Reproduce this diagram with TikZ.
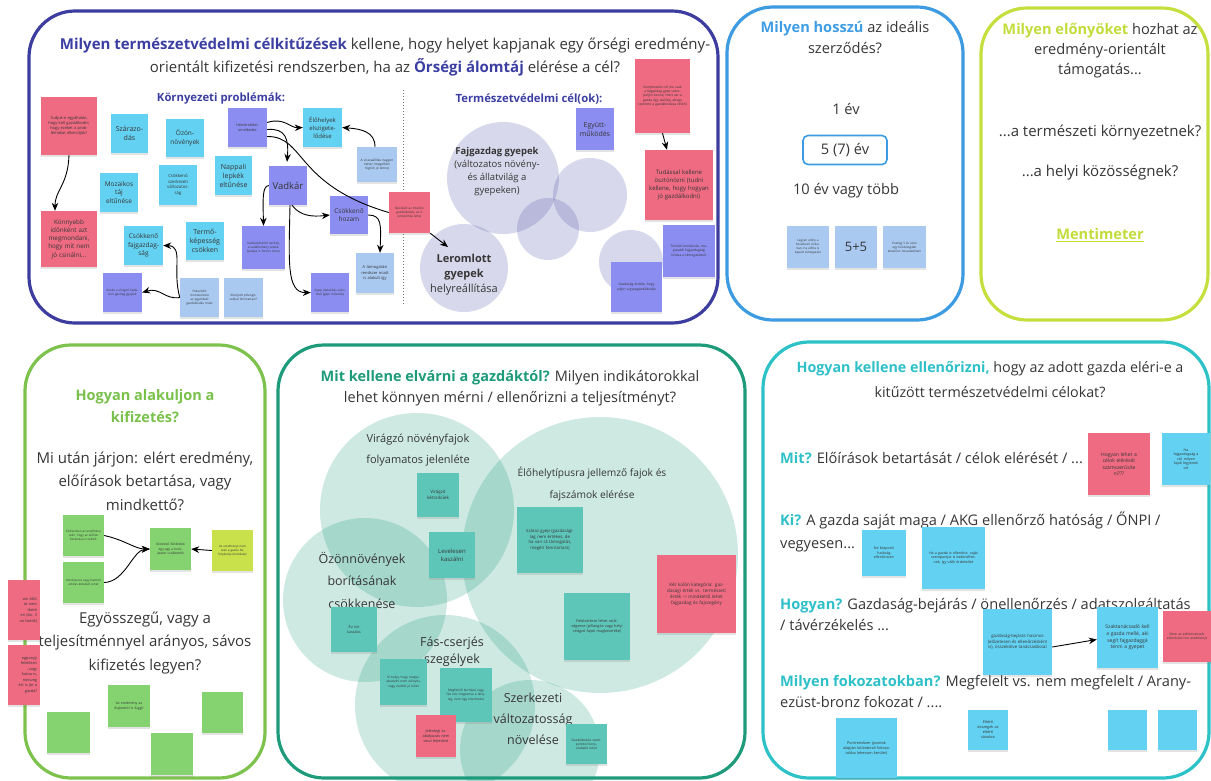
\documentclass[tikz,border=0pt]{standalone}
\usepackage{fontspec}
\setmainfont{Open Sans}
\usetikzlibrary{arrows.meta,shadows}
\definecolor{cInd}{HTML}{3D3DA0}
\definecolor{cBlue}{HTML}{3D9BE2}
\definecolor{cLime}{HTML}{C6DF3E}
\definecolor{cGreen}{HTML}{7DC24C}
\definecolor{cTeal}{HTML}{1D9B7B}
\definecolor{cCyan}{HTML}{2DC2C8}
\definecolor{cIndT}{HTML}{3C3FA2}
\definecolor{cBlueT}{HTML}{3E9DE5}
\definecolor{cLimeT}{HTML}{C2DC3A}
\definecolor{cGreenT}{HTML}{79C14A}
\definecolor{cTealT}{HTML}{1E9B7B}
\definecolor{cCyanT}{HTML}{2EC0C8}
\definecolor{nCyan}{HTML}{63D1F1}
\definecolor{nPurp}{HTML}{8B8DF0}
\definecolor{nLblue}{HTML}{A9C9F0}
\definecolor{nRed}{HTML}{EE6B82}
\definecolor{nGreen}{HTML}{84D370}
\definecolor{nLime}{HTML}{C9E24C}
\definecolor{nTeal}{HTML}{5EC6B9}
\definecolor{txt}{HTML}{363636}
\newcommand{\fsz}[2]{\fontsize{#1}{#2}\selectfont}
\newcommand{\sticky}[9][]{%
  \pgfmathsetmacro\stkw{#5-#3}%
  \pgfmathsetmacro\stkh{#6-#4}%
  \pgfmathsetmacro\stkx{(#3+#5)/2}%
  \pgfmathsetmacro\stky{(#4+#6)/2}%
  \pgfmathsetmacro\stkt{max(#5-#3-6,5)}%
  \node[stk,fill=#7,minimum width=\stkw pt,minimum height=\stkh pt,text width=\stkt pt,font=#8,#1] (#2) at (\stkx,\stky) {#9};}
\tikzset{
  stk/.style={align=center, inner sep=1pt, text=txt, draw=none,
    drop shadow={shadow xshift=0pt,shadow yshift=-1.6pt,opacity=0.22}},
  arr/.style={-{Stealth[length=8pt,width=6.5pt]}, line width=0.9pt, black},
  plain/.style={line width=0.9pt, black},
  lbl/.style={align=center, text=txt, inner sep=0pt},
  frame/.style={line width=3.2pt, rounded corners=46pt},
  icirc/.style={circle, fill=cInd, fill opacity=0.2, inner sep=0pt, draw=none},
  tcirc/.style={circle, fill=cTeal, fill opacity=0.22, inner sep=0pt, draw=none},
}
\begin{document}
\begin{tikzpicture}[x=1pt,y=-1pt]
\useasboundingbox (0,0) rectangle (1211,780);
\fill[white] (0,0) rectangle (1211,780);

% ---------- frames ----------
\draw[frame, cInd] (29,11) rectangle (718,323);
\draw[frame, cBlue] (727,7) rectangle (963,320);
\draw[frame, cLime] (981,8) rectangle (1208,320);
\draw[frame, cGreen] (25,345) rectangle (265,778);
\draw[frame, cTeal] (278,345) rectangle (745,778);
\draw[frame, cCyan] (763,342) rectangle (1209,778);

% ---------- circles ----------
\node[icirc, minimum size=112pt] (fajc) at (503,178) {};
\node[icirc, minimum size=74pt] (ic2) at (590,195) {};
\node[icirc, minimum size=62pt] (ic3) at (548,229) {};
\node[icirc, minimum size=88pt] (lerom) at (464,268) {};
\node[icirc, minimum size=64pt] (ic5) at (631,262) {};

\node[tcirc, minimum size=194pt] (tc1) at (417,510) {};
\node[tcirc, minimum size=276pt] (tc2) at (600,555) {};
\node[tcirc, minimum size=164pt] (tc3) at (365,600) {};
\node[tcirc, minimum size=180pt] (tc4) at (445,705) {};
\node[tcirc, minimum size=140pt] (tc5) at (530,750) {};

% ---------- panel 1 texts ----------
\node[lbl, font=\fsz{15}{23}] (t1) at (385,57) {\textcolor{cIndT}{\textbf{Milyen természetvédelmi célkitűzések}} kellene, hogy helyet kapjanak egy őrségi eredmény-\\orientált kifizetési rendszerben, ha az \textcolor{cIndT}{\textbf{Őrségi álomtáj}} elérése a cél?};
\node[lbl, font=\bfseries\fsz{11.3}{13}, text=cIndT] (kp) at (221,99) {Környezeti problémák:};
\node[lbl, font=\bfseries\fsz{11.3}{13}, text=cIndT] (tcl) at (529,99) {Természetvédelmi cél(ok):};
\coordinate (dl1) at (403,90);
\coordinate (dl2) at (403,305);
\draw[dotted, line width=1pt, black!55] (dl1) -- (dl2);
\node[lbl, font=\fsz{9.5}{13}] (fgt) at (497,172) {\textbf{Fajgazdag gyepek}\\(változatos növény-\\és állatvilág a\\gyepeken)};
\node[lbl, font=\fsz{11}{15}] (lert) at (464,275) {\textbf{Leromlott}\\\textbf{gyepek}\\helyreállítása};

% ---------- panel 1 notes ----------
\sticky{rA}{41}{97}{97}{155}{nRed}{\fsz{4}{5}}{Tudjuk-e egyáltalán, hogy kell gazdálkodni, hogy ezeket a problémákat elkerüljük?}
\sticky{rB}{41}{211}{97}{267}{nRed}{\fsz{6.3}{8.2}}{Könnyebb időnként azt megmondani, hogy mit nem jó csinálni...}
\sticky{szar}{111}{114}{148}{153}{nCyan}{\fsz{7}{9}}{Szárazo-\\dás}
\sticky{ozon}{166}{119}{204}{157}{nCyan}{\fsz{6.5}{8.5}}{Özön-\\növények}
\sticky{nap}{228}{108}{267}{147}{nPurp}{\fsz{3.6}{4.6}}{Hőmérséklet-\\emelkedés}
\sticky{eloh}{303}{108}{342}{147}{nCyan}{\fsz{6}{8}}{Élőhelyek\\elszigete-\\lődése}
\sticky{lb1}{357}{147}{397}{182}{nLblue}{\fsz{3.2}{4.2}}{A visszaállítás nagyon nehéz (megelőzni rögtön jó lenne)}
\sticky{napp}{215}{156}{252}{195}{nCyan}{\fsz{7}{9}}{Nappali\\lepkék\\eltűnése}
\sticky{szerk}{159}{165}{197}{205}{nCyan}{\fsz{4.3}{5.6}}{Csökkenő\\szerkezeti\\változatos-\\ság}
\sticky{moz}{100}{173}{138}{212}{nCyan}{\fsz{6.5}{8.5}}{Mozaikos\\táj\\eltűnése}
\sticky{vad}{269}{166}{307}{205}{nPurp}{\fsz{9.5}{11}}{Vadkár}
\sticky{hoz}{330}{196}{368}{234}{nPurp}{\fsz{6.5}{8.5}}{Csökkenő\\hozam}
\sticky{nov}{389}{192}{430}{233}{nRed}{\fsz{3.1}{4.1}}{Növekvő az intenzív gazdálkodás, ez is problémás lehet}
\sticky{pB}{242}{226}{285}{269}{nPurp}{\fsz{3.1}{4.1}}{Vadkárelhárító kerítés, a vadállomány szabályozása is fontos lenne}
\sticky{pC}{311}{273}{349}{312}{nPurp}{\fsz{3.1}{4.1}}{Gyep átalakítás szántóvá (gépi művelés)}
\sticky{lb2}{356}{253}{394}{293}{nLblue}{\fsz{4}{5.2}}{A támogatási rendszer miatt is alakult így}
\sticky{term}{186}{222}{224}{260}{nCyan}{\fsz{7}{9}}{Termő-\\képesség\\csökken}
\sticky{fajg}{124}{226}{163}{265}{nCyan}{\fsz{6.5}{8.5}}{Csökkenő\\fajgazdag-\\ság}
\sticky{lb3}{180}{278}{219}{317}{nLblue}{\fsz{3.1}{4.1}}{Fokozódó monokultúra az egyoldalú gazdálkodás miatt}
\sticky{lb4}{224}{278}{263}{317}{nLblue}{\fsz{3.1}{4.1}}{Kiterjedt pillangósokkal fenntartani?}
\sticky{pD}{103}{273}{142}{312}{nPurp}{\fsz{3.1}{4.1}}{Kevés a virágzó fajokban gazdag gyepek}
\sticky{egy}{576}{108}{614}{150}{nPurp}{\fsz{7}{9}}{Együtt-\\működés}
\sticky{kom}{635}{59}{690}{133}{nRed}{\fsz{3.3}{4.4}}{Komplexebb cél (ne csak a fajgazdag gyep szerepeljen benne, mert azt a gazda úgy alakítja, ahogy szeretné a gazdálkodása révén)}
\sticky{tud}{645}{150}{713}{220}{nRed}{\fsz{6}{8}}{Tudással kellene ösztönözni (tudni kellene, hogy hogyan jó gazdálkodni)}
\sticky{pE}{663}{225}{715}{277}{nPurp}{\fsz{3.3}{4.4}}{Területi korlátozás, magasabb fajgazdagság kiírása a támogatásból}
\sticky{pF}{611}{262}{662}{312}{nPurp}{\fsz{3.3}{4.4}}{Gazdaság érdeke, hogy adjon a gyepgazdálkodás}

% ---------- panel 1 arrows ----------
\draw[arr] (rA.south) .. controls (68,185) and (55,190) .. ([xshift=-14pt]rB.north);
\draw[arr] ([yshift=5pt]nap.east) .. controls (284,117) and (290,128) .. (eloh.west);
\draw[arr] ([yshift=-2pt]nap.east) .. controls (285,128) and (289,138) .. ([xshift=-1pt,yshift=4pt]vad.north);
\draw[plain] ([yshift=-9pt]nap.east) .. controls (305,136) and (295,185) .. (nov.west);
\draw[arr] (nov.south east) -- ([xshift=-16pt,yshift=21pt]lerom.center);
\draw[arr] ([xshift=-2pt]lb1.north) .. controls (375,132) and (362,129) .. (eloh.east);
\draw[arr] ([xshift=4pt]vad.south) .. controls (300,216) and (312,217) .. (hoz.west);
\draw[arr] (vad.west) .. controls (262,186) and (263,200) .. (pB.north);
\draw[arr] ([xshift=2pt]vad.south) .. controls (289,260) and (286,293) .. (pC.west);
\draw[arr] (hoz.east) .. controls (382,215) and (381,225) .. ([xshift=5pt]lb2.north);
\draw[arr] (lb3.west) .. controls (172,270) and (184,246) .. (fajg.east);
\draw[arr] (lb3.west) .. controls (165,300) and (160,287) .. (pD.east);
\draw[arr] (kom.south) -- ([xshift=-12pt]tud.north);

% ---------- panel 2 ----------
\node[lbl, font=\fsz{14.6}{21}] (t2) at (845,38) {\textcolor{cBlueT}{\textbf{Milyen hosszú}} az ideális\\szerződés?};
\node[lbl, font=\fsz{14.6}{16}] (e1) at (846,109) {1 év};
\node[lbl, draw=cBlue, line width=1.6pt, rounded corners=5pt, minimum width=84pt, minimum height=29pt, font=\fsz{14.6}{16}] (b57) at (845,150) {5 (7) év};
\node[lbl, font=\fsz{14.6}{16}] (e10) at (846,191) {10 év vagy több};
\sticky{nA}{787}{226}{829}{268}{nLblue}{\fsz{3}{4}}{Legyen előny a következő ciklusban, ha előtte is kapott támogatást}
\sticky{nB}{835}{226}{877}{268}{nLblue}{\fsz{13}{15}}{5+5}
\sticky{nC}{883}{226}{926}{268}{nLblue}{\fsz{3}{4}}{Esetleg 5 év után egy felülvizsgálat követően hosszabbítani}

% ---------- panel 3 ----------
\node[lbl, font=\fsz{14.6}{20}] (t3) at (1100,51) {\textcolor{cLimeT}{\textbf{Milyen előnyöket}} hozhat az\\eredmény-orientált\\támogatás...};
\node[lbl, font=\fsz{15}{16}] (k1) at (1100,133) {...a természeti környezetnek?};
\node[lbl, font=\fsz{15}{16}] (k2) at (1100,173) {...a helyi közösségnek?};
\node[lbl, font=\bfseries\fsz{14.6}{16}, text=cLimeT] (menti) at (1100,235) {\underline{Mentimeter}};

% ---------- panel 4 ----------
\node[lbl, font=\bfseries\fsz{14.5}{22}, text=cGreenT] (t4) at (145,406) {Hogyan alakuljon a\\kifizetés?};
\node[lbl, font=\fsz{15}{23.5}] (q41) at (145,481) {Mi után járjon: elért eredmény,\\előírások betartása, vagy\\mindkettő?};
\node[lbl, font=\fsz{15}{23.5}] (q42) at (145,643) {Egyösszegű, vagy a\\teljesítménnyel arányos, sávos\\kifizetés legyen?};
\sticky{gA}{63}{515}{104}{556}{nGreen}{\fsz{3}{4}}{Elsősorban az eredmény után, hogy az előírás betartása is számít}
\sticky{gB}{63}{562}{104}{603}{nGreen}{\fsz{3}{4}}{Rendszeres vagy kiemelt előírás kötelező lehet}
\sticky{gM}{150}{528}{191}{570}{nGreen}{\fsz{3.3}{4.3}}{Kötelező feltételek egy-egy a kockázatot csökkentik}
\sticky{gY}{212}{530}{253}{571}{nLime}{\fsz{3}{4}}{Az eredményt nem csak a gazda befolyásolja (kockázat)}
\sticky[align=right]{rL1}{8}{580}{40}{640}{nRed}{\fsz{3.8}{5.5}}{ani AKG\\ás nem\\thető\\en (kb. 3\\on fizetik)}
\sticky[align=right]{rL2}{8}{645}{40}{705}{nRed}{\fsz{3.8}{5.5}}{egponyji\\felelősen\\, vagy\\hatna is,\\nosszeg\\ért is jár a\\gazda?}
\sticky{gE}{108}{685}{150}{727}{nGreen}{\fsz{3.5}{4.6}}{Az eredmény az évjárattól is függ!!}
\sticky{gX1}{47}{712}{90}{753}{nGreen}{\fsz{3}{4}}{}
\sticky{gX2}{151}{733}{193}{775}{nGreen}{\fsz{3}{4}}{}
\sticky{gX3}{202}{692}{243}{733}{nGreen}{\fsz{3}{4}}{}
\draw[arr] (gA.east) .. controls (125,540) and (135,549) .. (gM.west);
\draw[arr] (gB.east) .. controls (125,582) and (133,550) .. (gM.west);
\draw[arr] (gY.west) -- (gM.east);

% ---------- panel 5 ----------
\node[lbl, font=\fsz{14.5}{21.5}] (t5) at (510,388) {\textcolor{cTealT}{\textbf{Mit kellene elvárni a gazdáktól?}} Milyen indikátorokkal\\lehet könnyen mérni / ellenőrizni a teljesítményt?};
\node[lbl, font=\fsz{11}{21}] (l51) at (418,450) {Virágzó növényfajok\\folyamatos jelenléte};
\node[lbl, font=\fsz{10.2}{22}] (l52) at (592,484) {Élőhelytípusra jellemző fajok és\\fajszámok elérése};
\node[lbl, font=\fsz{12.5}{22.5}] (l53) at (362,580) {Özönnövények\\borításának\\csökkenése};
\node[lbl, font=\fsz{12.5}{17}] (l54) at (452,652) {Fás-cserjés\\szegélyek};
\node[lbl, font=\fsz{12.5}{21}] (l55) at (533,719) {Szerkezeti\\változatosság\\növelése};
\sticky{vk}{417}{473}{459}{517}{nTeal}{\fsz{4.5}{5.8}}{Virágzó\\kétszikűek}
\sticky{lev}{429}{532}{475}{578}{nTeal}{\fsz{6}{8}}{Levelesen\\kaszálni}
\sticky{evi}{331}{607}{377}{652}{nTeal}{\fsz{3.5}{4.6}}{Évi két\\kaszálás}
\sticky{kit}{380}{659}{427}{705}{nTeal}{\fsz{3.2}{4.2}}{Ki tudja, hogy megszabadulni nem előnyös, nagy nádnál jó lehet}
\sticky{megf}{440}{668}{492}{722}{nTeal}{\fsz{3.2}{4.2}}{Megfelelő borítású vagy fás szív megtartva a tényleg, nem úgy kitermelve}
\sticky{jel}{416}{715}{456}{757}{nRed}{\fsz{3.8}{5}}{Jelenlegi szabályozás nem teszi lehetővé}
\sticky{szg}{517}{507}{583}{573}{nTeal}{\fsz{4.3}{5.6}}{Száraz gyep (gazdaságilag nem értékes, de ha van rá támogatás, megéri fenntartani)}
\sticky{fel}{564}{593}{630}{660}{nTeal}{\fsz{3.8}{5}}{Felülvetésre lehet szükségesse (pillangós vagy helyi virágzó fajok magkeveréke)}
\sticky{ketk}{657}{555}{736}{633}{nRed}{\fsz{4.6}{6}}{Két külön kategória: gazdasági érték vs. természeti érték -> mindkettő lehet fajgazdag és fajszegény}
\sticky{gaz}{566}{724}{607}{764}{nTeal}{\fsz{3.2}{4.2}}{Gazdálkodási szempontból bonyolultabb lehet}

% ---------- panel 6 ----------
\node[lbl, font=\fsz{14.3}{25}] (t6) at (990,380) {\textcolor{cCyanT}{\textbf{Hogyan kellene ellenőrizni,}} hogy az adott gazda eléri-e a\\kitűzött természetvédelmi célokat?};
\node[lbl, anchor=west, align=left, font=\fsz{14.6}{16}] (mit) at (780,458) {\textcolor{cCyanT}{\textbf{Mit?}} Előírások betartását / célok elérését / ...};
\node[lbl, anchor=west, align=left, font=\fsz{14.6}{23}] (ki) at (780,531.5) {\textcolor{cCyanT}{\textbf{Ki?}} A gazda saját maga / AKG ellenőrző hatóság / ŐNPI /\\vegyesen...};
\node[lbl, anchor=west, align=left, font=\fsz{14.6}{21}] (hogy) at (780,615) {\textcolor{cCyanT}{\textbf{Hogyan?}} Gazdaság-bejárás / önellenőrzés / adatszolgáltatás\\/ távérzékelés ...};
\node[lbl, anchor=west, align=left, font=\fsz{14.6}{21}] (fok) at (780,692) {\textcolor{cCyanT}{\textbf{Milyen fokozatokban?}} Megfelelt vs. nem megfelelt / Arany-\\ezüst-bronz fokozat / ....};
\sticky{hl}{1088}{433}{1150}{495}{nRed}{\fsz{5}{6.5}}{Hogyan lehet a\\célok elérését\\számszerűsíte\\ni???}
\sticky{hf}{1162}{433}{1210}{485}{nCyan}{\fsz{3.6}{4.6}}{Ha\\fajgazdagság a\\cél, milyen\\fajok legyenek\\ott}
\sticky{nk}{862}{530}{906}{576}{nCyan}{\fsz{3.6}{4.6}}{Ne központi\\hatóság\\ellenőrizzen}
\sticky{hg}{922}{527}{985}{589}{nCyan}{\fsz{3.6}{4.6}}{Ha a gazda is ellenőriz: saját szempontjai is bekerülhetnek, így válik érdekeltté}
\sticky{gbj}{983}{609}{1052}{675}{nCyan}{\fsz{4.3}{5.6}}{gazdaság-bejárás hasznos (előzetesen és ellenőrzésként is), összekötve tanácsadással}
\sticky{szk}{1097}{607}{1158}{668}{nCyan}{\fsz{5}{6.7}}{Szaktanácsadó kell a gazda mellé, aki segít fajgazdaggá tenni a gyepet}
\sticky{nem}{1163}{611}{1211}{662}{nRed}{\fsz{3.3}{4.3}}{Nem az adminisztratív ellenőrzés hoz eredményt}
\sticky{pont}{836}{718}{897}{778}{nCyan}{\fsz{3.8}{5}}{Pontrendszer (pontok alapján különböző fokozatokba lehessen kerülni)}
\sticky{elt}{968}{710}{1008}{750}{nCyan}{\fsz{3.8}{5}}{Eltérő\\összegek az\\eltérő\\sávokra}
\sticky{bl1}{1108}{710}{1147}{750}{nCyan}{\fsz{3}{4}}{}
\sticky{bl2}{1158}{710}{1197}{750}{nCyan}{\fsz{3}{4}}{}
\draw[arr] ([yshift=-5pt]gbj.east) -- ([yshift=-2pt]szk.west);
\end{tikzpicture}
\end{document}
